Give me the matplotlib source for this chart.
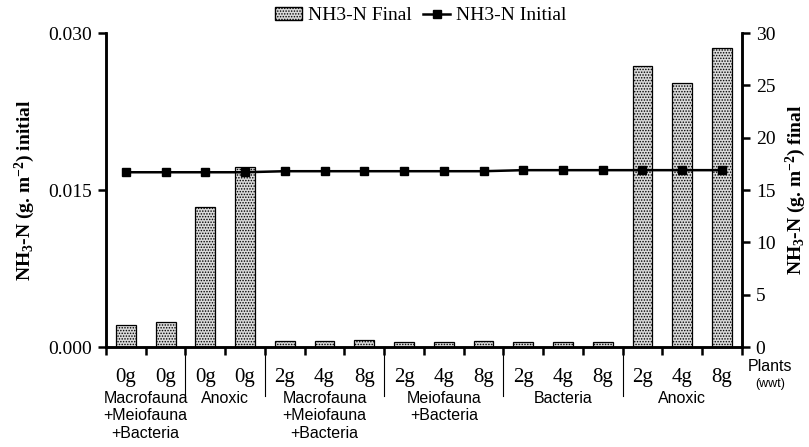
import numpy as np
import matplotlib
matplotlib.use("Agg")
import matplotlib.pyplot as plt
from matplotlib.lines import Line2D
from matplotlib.patches import Patch

# data
dose_labels = ["0g", "0g", "0g", "0g", "2g", "4g", "8g", "2g", "4g", "8g",
               "2g", "4g", "8g", "2g", "4g", "8g"]
nh3_final = [2.1, 2.4, 13.4, 17.2, 0.55, 0.6, 0.65, 0.5, 0.5, 0.55,
             0.45, 0.45, 0.45, 26.9, 25.2, 28.6]
nh3_initial = [0.0167, 0.0167, 0.0167, 0.0167, 0.0168, 0.0168, 0.0168, 0.0168,
               0.0168, 0.0168, 0.0169, 0.0169, 0.0169, 0.0169, 0.0169, 0.0169]
group_names = ["Macrofauna\n+Meiofauna\n+Bacteria", "Anoxic",
               "Macrofauna\n+Meiofauna\n+Bacteria", "Meiofauna\n+Bacteria",
               "Bacteria", "Anoxic"]
group_sizes = [2, 2, 3, 3, 3, 3]

serif = "Liberation Serif"
sans = "Liberation Sans"
bar_fill = "#dadada"
plt.rcParams["hatch.linewidth"] = 0.7
plt.rcParams["mathtext.default"] = "regular"

fig = plt.figure(figsize=(8.09, 4.47), dpi=100)
ax = fig.add_axes([0.131, 0.2237, 0.786, 0.7023])
ax2 = ax.twinx()

x = np.arange(len(nh3_final))
ax2.bar(x, nh3_final, width=0.5, facecolor=bar_fill, edgecolor="black",
        hatch="......", linewidth=0.9, zorder=1)
ax2.set_ylim(0, 30)
ax2.set_yticks(np.arange(0, 31, 5))

ax.set_zorder(ax2.get_zorder() + 1)
ax.patch.set_visible(False)
ax.plot(x, nh3_initial, color="black", marker="s", markersize=6, linewidth=1.8)
ax.set_ylim(0, 0.030)
ax.set_yticks([0.0, 0.015, 0.030])
ax.set_yticklabels(["0.000", "0.015", "0.030"])
ax.set_xlim(-0.5, len(x) - 0.5)

for a in (ax, ax2):
    a.spines["top"].set_visible(False)
    for s in ("left", "right", "bottom"):
        a.spines[s].set_linewidth(1.8)
    a.tick_params(axis="y", direction="out", length=6, width=1.8,
                  labelsize=14, pad=4)
    for lab in a.get_yticklabels():
        lab.set_fontfamily(serif)

ax.set_xticks(x)
ax.set_xticklabels(dose_labels, fontfamily=serif, fontsize=15)
ax.tick_params(axis="x", which="major", length=0, pad=15)
ax.set_xticks(np.arange(-0.5, len(x), 1.0), minor=True)
ax.tick_params(axis="x", which="minor", direction="out", length=6, width=1.8)

ax.set_ylabel("NH$_3$-N (g. m$^{-2}$) initial", fontfamily=serif,
              fontweight="bold", fontsize=14, labelpad=8)
ax2.set_ylabel("NH$_3$-N (g. m$^{-2}$) final", fontfamily=serif,
               fontweight="bold", fontsize=14, rotation=90, labelpad=6)

# group labels and separators under the axis
start = 0
for i, (name, size) in enumerate(zip(group_names, group_sizes)):
    centre = start + (size - 1) / 2
    ax.text(centre, -0.0042, name, ha="center", va="top", fontfamily=sans,
            fontsize=11.5, linespacing=1.2)
    if i > 0:
        ax.plot([start - 0.5, start - 0.5], [0, -0.0047], color="black",
                linewidth=0.8, clip_on=False)
    start += size

fig.text(0.952, 0.179, "Plants", ha="center", va="center", fontfamily=sans,
         fontsize=11.5)
fig.text(0.952, 0.142, "(wwt)", ha="center", va="center", fontfamily=sans,
         fontsize=9)

handles = [Patch(facecolor=bar_fill, edgecolor="black", hatch="......"),
           Line2D([], [], color="black", marker="s", markersize=6,
                  linewidth=1.8)]
fig.legend(handles, ["NH3-N Final", "NH3-N Initial"], loc="center",
           bbox_to_anchor=(0.52, 0.965), ncol=2, frameon=False,
           prop={"family": serif, "size": 14}, handlelength=1.4,
           handletextpad=0.3, columnspacing=0.6)

fig.savefig("out.png", dpi=100)
